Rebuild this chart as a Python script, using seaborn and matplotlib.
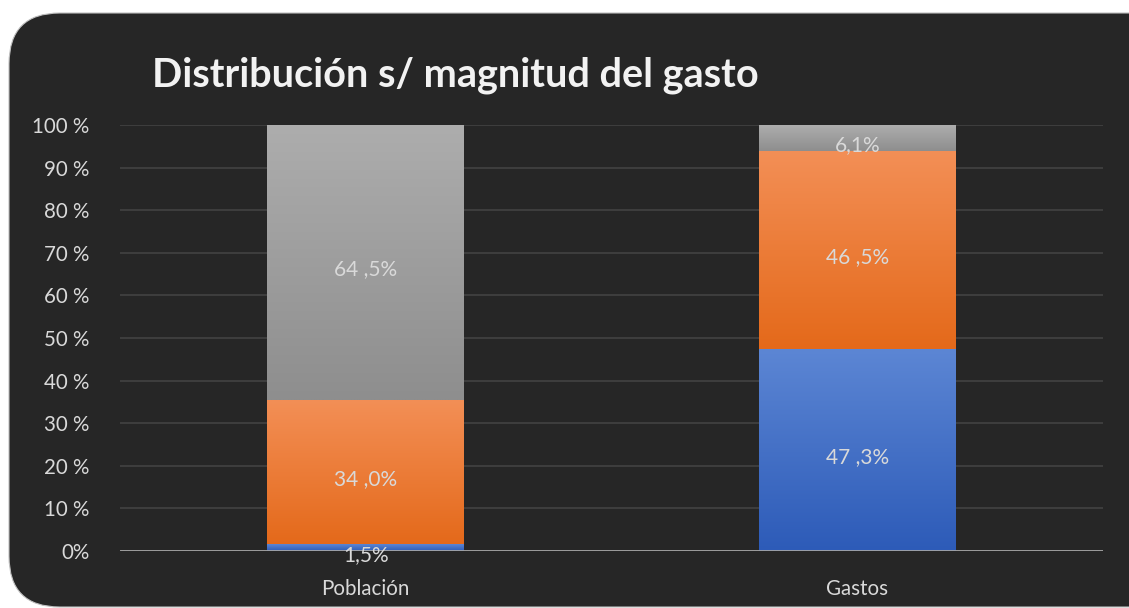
import numpy as np
import pandas as pd
import matplotlib.pyplot as plt
from matplotlib.patches import FancyBboxPatch
from matplotlib.colors import to_rgb
import seaborn as sns

# data
categories = ["Población", "Gastos"]
blue_vals = [1.5, 47.3]
orange_vals = [34.0, 46.5]
gray_vals = [64.5, 6.1]
blue_labels = ["1,5%", "47 ,3%"]
orange_labels = ["34 ,0%", "46 ,5%"]
gray_labels = ["64 ,5%", "6,1%"]
ytick_vals = [0, 10, 20, 30, 40, 50, 60, 70, 80, 90, 100]
ytick_labels = ["0%", "10 %", "20 %", "30 %", "40 %", "50 %", "60 %", "70 %", "80 %", "90 %", "100 %"]

sns.set_style("dark")
plt.rcParams["font.family"] = ["Lato", "DejaVu Sans"]

bg = "#262626"
txt = "#D9D9D9"

fig = plt.figure(figsize=(11.29, 6.08), dpi=100, facecolor="white")
# rounded dark panel (right edge runs off the picture)
panel = FancyBboxPatch((9 / 1129, 1 / 608), 1.2, 1 - 14 / 608,
                       boxstyle="round,pad=0,rounding_size=0.045",
                       transform=fig.transFigure, facecolor=bg, edgecolor="#BFBFBF",
                       linewidth=0.8, mutation_aspect=1129 / 608, zorder=-5)
fig.patches.append(panel)

ax = fig.add_axes([120 / 1129, 57 / 608, 983 / 1129, 426 / 608])
ax.set_facecolor("none")
ax.set_zorder(1)

df = pd.DataFrame({
    "cat": categories,
    "blue": blue_vals,
    "orange": orange_vals,
    "gray": gray_vals,
})
df["top_orange"] = df["blue"] + df["orange"]
df["top_gray"] = df["top_orange"] + df["gray"]

layers = [
    ("top_gray", df["top_orange"], ("#ADADAD", "#8E8E8E"), gray_labels),
    ("top_orange", df["blue"], ("#F38F56", "#E4691A"), orange_labels),
    ("blue", pd.Series([0.0, 0.0]), ("#5C86D4", "#2D5BB8"), blue_labels),
]

for i, (col, bottoms, (c_top, c_bot), labels) in enumerate(layers):
    sns.barplot(data=df, x="cat", y=col, color=c_bot, width=0.4, ax=ax,
                saturation=1, zorder=2 + i, linewidth=0)
    cont = ax.containers[-1]
    grad = np.linspace(np.array(to_rgb(c_top)), np.array(to_rgb(c_bot)), 256).reshape(256, 1, 3)
    for j, bar in enumerate(cont):
        x0 = bar.get_x()
        x1 = x0 + bar.get_width()
        b = bottoms.iloc[j]
        t = bar.get_height()
        ax.imshow(grad, extent=(x0, x1, b, t), origin="upper", aspect="auto",
                  zorder=2.5 + i, interpolation="bilinear")
        ax.annotate(labels[j], ((x0 + x1) / 2, (b + t) / 2), xytext=(0, -5),
                    textcoords="offset points", ha="center", va="center",
                    color=txt, fontsize=15, zorder=10)

ax.set_xlim(-0.5, 1.5)
ax.set_ylim(0, 100)
ax.set_yticks(ytick_vals)
ax.set_yticklabels(ytick_labels)
ax.tick_params(axis="both", colors=txt, labelsize=14.8, length=0)
ax.tick_params(axis="y", pad=22)
ax.tick_params(axis="x", pad=20)
for lab in ax.get_xticklabels() + ax.get_yticklabels():
    lab.set_color(txt)
ax.set_xlabel("")
ax.set_ylabel("")
ax.grid(axis="y", color="#404040", linewidth=1.3)
ax.set_axisbelow(True)
for s in ax.spines.values():
    s.set_visible(False)
ax.axhline(0, color="#A6A6A6", linewidth=2, zorder=9)

fig.text(152 / 1129, 1 - 75 / 608, "Distribución s/ magnitud del gasto", color="#F2F2F2",
         fontsize=28.5, fontweight="bold", ha="left", va="center")

fig.savefig("out.png", dpi=100, facecolor="white")
